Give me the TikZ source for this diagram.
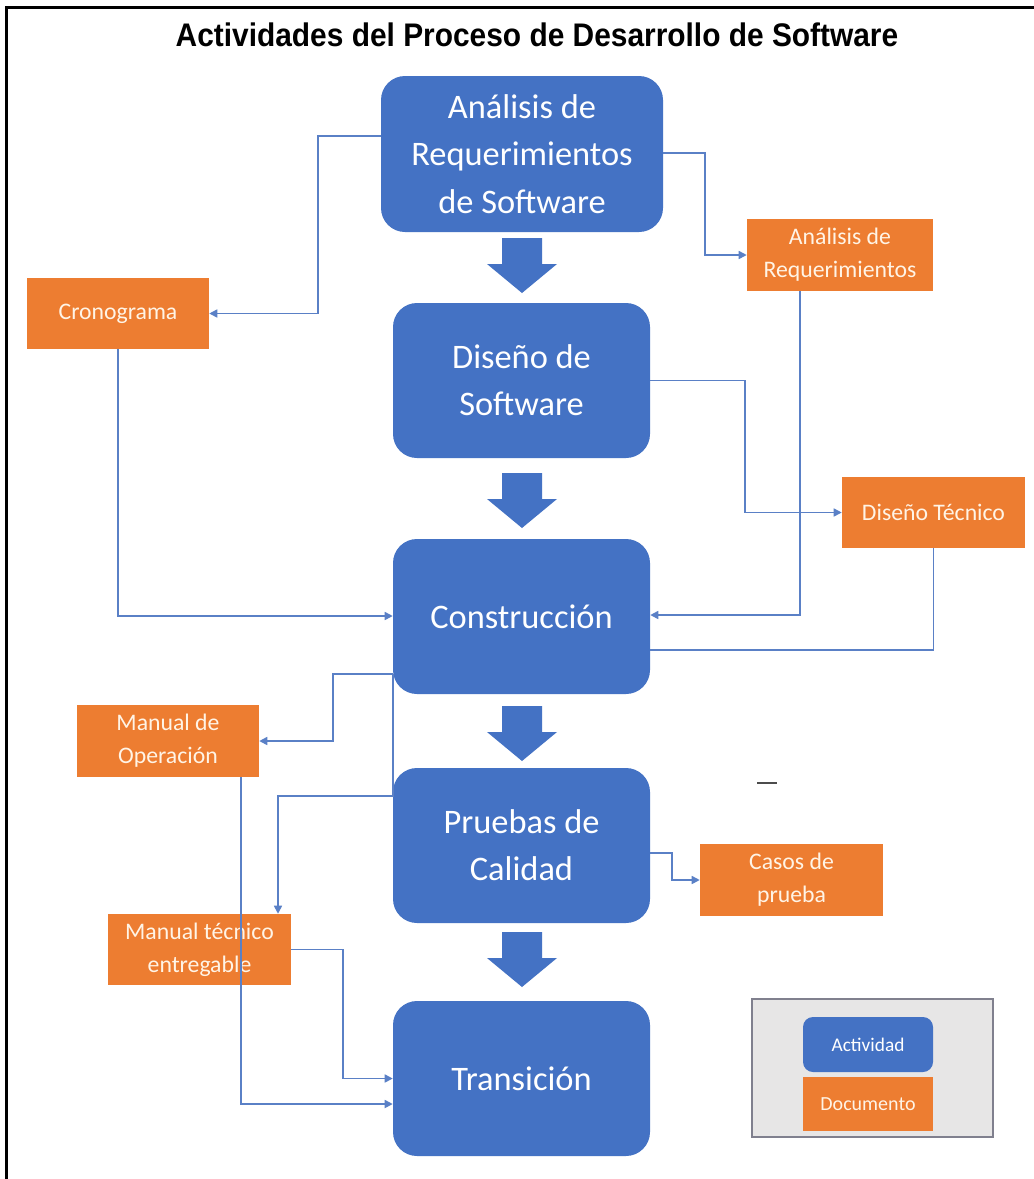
\documentclass[tikz,border=0pt]{standalone}
\usepackage{fontspec}
\setmainfont{Carlito}
\newfontfamily\titlefont{Liberation Sans}
\usetikzlibrary{arrows.meta}
\definecolor{actblue}{HTML}{4472C4}
\definecolor{docorange}{HTML}{ED7D31}
\definecolor{doctext}{HTML}{FFF4E6}
\definecolor{linkblue}{HTML}{5A80C6}
\definecolor{legendgray}{HTML}{E7E6E6}
\definecolor{legendedge}{HTML}{80808E}
\begin{document}
\begin{tikzpicture}[x=0.75pt,y=-0.75pt,
  activity/.style={fill=actblue, rounded corners=18pt, text=white, align=center,
    inner sep=0pt, minimum width=192.75pt, minimum height=116.25pt,
    font=\fontsize{25.8}{35.4}\selectfont},
  document/.style={fill=docorange, text=doctext, align=center, inner sep=0pt,
    minimum width=137.25pt, minimum height=53.25pt,
    font=\fontsize{17.8}{24.75}\selectfont},
  link/.style={draw=linkblue, line width=1.2pt},
  tip/.style={-{Triangle[length=6pt,width=6pt]}},
  blockarrow/.pic={\fill[actblue] (-20,0) -- (20,0) -- (20,26) -- (35,26)
    -- (0,55) -- (-35,26) -- (-20,26) -- cycle;}
]
\useasboundingbox (0,0) rectangle (1034,1179);
\fill[white] (0,0) rectangle (1034,1179);

% frame and title
\draw[line width=2pt] (6.5,1179) -- (6.5,7.5) -- (1034,7.5);
\node[font=\titlefont\bfseries\fontsize{24.5}{28}\selectfont] (title) at (537,35)
  {\scalebox{0.915}[1]{Actividades del Proceso de Desarrollo de Software}};

% activities
\node[activity, minimum width=211.5pt, minimum height=117pt] (ars) at (522,154)
  {Análisis de\\Requerimientos\\de Software};
\node[activity] (dis) at (521.5,380.5) {Diseño de\\Software};
\node[activity] (con) at (521.5,616.5) {Construcción};
\node[activity] (pru) at (521.5,845.5) {Pruebas de\\Calidad};
\node[activity] (tra) at (521.5,1078.5) {Transición};

% flow between activities
\pic at (522,238) {blockarrow};
\pic at (522,473) {blockarrow};
\pic at (522,706) {blockarrow};
\pic at (522,932) {blockarrow};

% documents
\node[document, minimum width=136.5pt] (cro) at (118,313.5) {Cronograma};
\node[document, minimum width=139.5pt, minimum height=54pt] (dar) at (840,255)
  {Análisis de\\Requerimientos};
\node[document] (dte) at (933.5,512.5) {Diseño Técnico};
\node[document, minimum width=136.5pt, minimum height=54pt] (mop) at (168,741)
  {Manual de\\Operación};
\node[document] (mte) at (199.5,949.5) {Manual técnico\\entregable};
\node[document, minimum height=54pt] (cas) at (791.5,880) {Casos de\\prueba};

% connectors
\draw[link, tip] (ars.west |- 0,136) -- (318,136) |- (cro.east);
\draw[link, tip] (ars.east |- 0,153) -- (705,153) |- (dar.west);
\draw[link, tip] (dar.south -| 800,0) |- (con.east |- 0,615);
\draw[link, tip] (dis.east) -- (dis.east -| 745,0) |- (dte.west);
\draw[link] (dte.south) |- (con.east |- 0,650);
\draw[link, tip] (cro.south) |- (con.west |- 0,616);
\draw[link, tip] (con.west |- 0,674) -- (333,674) |- (mop.east);
\draw[link, tip] (con.west |- 0,674) -- (pru.west |- 0,796) -- (278,796)
  -- (mte.north -| 278,0);
\draw[link, tip] (mop.south -| 241,0) |- (tra.west |- 0,1104);
\draw[link, tip] (mte.east) -- (343,949.5) |- (tra.west);
\draw[link, tip] (pru.east |- 0,853) -- (672,853) |- (cas.west);

% stray mark
\draw[line width=1.3pt, black!70] (757,783) -- (777,783);

% legend
\draw[fill=legendgray, draw=legendedge, line width=1.5pt] (752,999) rectangle (993,1137);
\node[fill=actblue, rounded corners=7.5pt, text=white, inner sep=0pt,
  minimum width=97.5pt, minimum height=41.25pt, font=\fontsize{14.5}{17}\selectfont]
  (legact) at (868,1044.5) {Actividad};
\node[fill=docorange, text=doctext, inner sep=0pt,
  minimum width=97.5pt, minimum height=40.5pt, font=\fontsize{15}{17}\selectfont]
  (legdoc) at (868,1104) {Documento};
\end{tikzpicture}
\end{document}
